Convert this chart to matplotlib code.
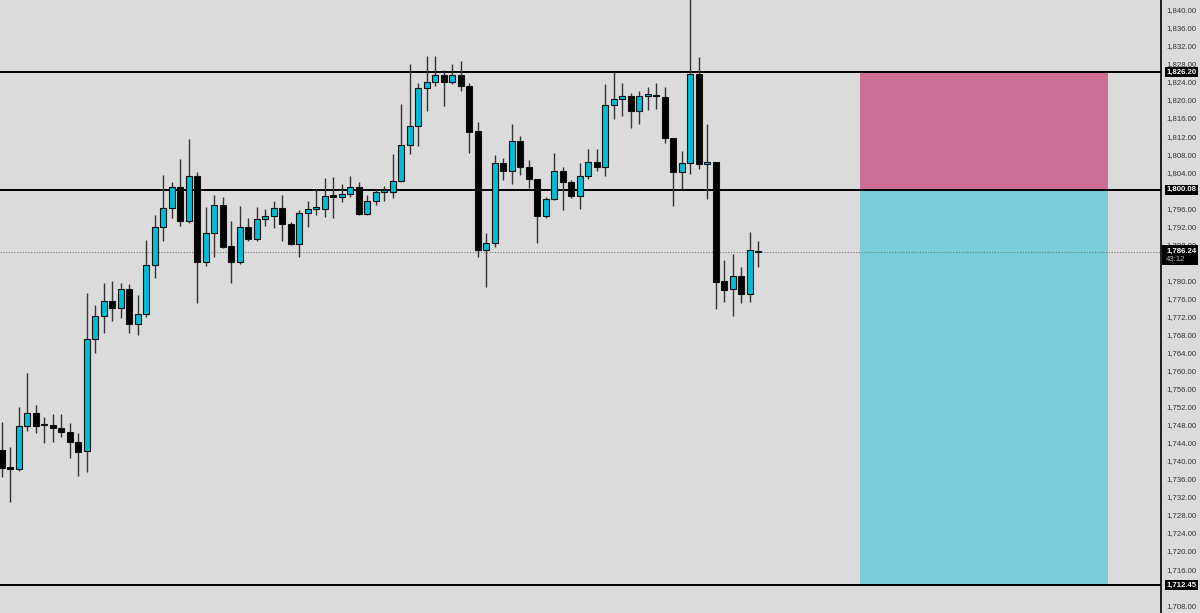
import matplotlib
matplotlib.use("Agg")
import matplotlib.pyplot as plt
import matplotlib.transforms as mtransforms
from matplotlib.patches import Rectangle
import numpy as np

# ---- data (prices) ----
opens = [1742.40, 1738.63, 1738.19, 1747.72, 1750.61, 1747.95, 1747.95, 1747.28, 1746.40, 1744.18,
         1742.18, 1767.01, 1772.11, 1775.44, 1773.89, 1778.10, 1770.34, 1772.55, 1783.42, 1791.84,
         1796.05, 1800.71, 1793.17, 1803.15, 1784.08, 1790.51, 1796.72, 1787.63, 1784.08, 1791.84,
         1789.18, 1793.62, 1794.28, 1796.05, 1792.51, 1788.07, 1794.95, 1795.83, 1795.83, 1798.61,
         1798.50, 1799.16, 1800.71, 1794.73, 1797.61, 1799.60, 1799.60, 1802.04, 1810.02, 1814.23,
         1822.66, 1823.99, 1825.54, 1823.99, 1825.54, 1823.10, 1813.13, 1786.74, 1788.30, 1806.03,
         1804.26, 1810.91, 1805.15, 1802.49, 1794.28, 1798.05, 1804.26, 1801.82, 1798.72, 1803.15,
         1806.25, 1805.15, 1818.89, 1820.22, 1820.89, 1817.56, 1820.89, 1820.89, 1820.66, 1811.57,
         1804.04, 1806.03, 1825.76, 1805.81, 1806.25, 1779.87, 1778.10, 1780.98, 1776.99, 1786.63]
highs = [1748.61, 1743.07, 1751.94, 1759.48, 1752.38, 1749.72, 1750.39, 1750.39, 1748.39, 1746.17,
         1777.21, 1774.55, 1779.43, 1779.87, 1779.43, 1779.21, 1776.77, 1788.96, 1794.50, 1803.37,
         1801.82, 1806.92, 1811.35, 1804.04, 1796.28, 1798.94, 1798.49, 1793.17, 1796.50, 1793.84,
         1796.28, 1795.83, 1797.61, 1798.94, 1792.95, 1795.61, 1797.61, 1800.27, 1802.71, 1802.93,
         1801.38, 1803.15, 1801.82, 1798.94, 1800.27, 1800.93, 1808.03, 1819.11, 1827.98, 1823.77,
         1829.76, 1829.76, 1826.65, 1827.98, 1828.65, 1823.77, 1815.12, 1790.51, 1807.81, 1807.14,
         1814.68, 1812.02, 1806.70, 1802.49, 1798.49, 1808.25, 1805.15, 1802.26, 1806.03, 1809.13,
         1809.13, 1823.55, 1826.21, 1823.77, 1821.55, 1822.00, 1822.88, 1823.77, 1822.88, 1811.57,
         1808.69, 1843.00, 1829.53, 1814.68, 1806.25, 1784.52, 1785.86, 1782.98, 1790.73, 1788.74]
lows = [1736.41, 1730.87, 1737.75, 1746.62, 1746.17, 1743.96, 1744.18, 1745.29, 1740.63, 1736.64,
        1737.53, 1763.91, 1768.34, 1771.00, 1771.67, 1768.34, 1767.90, 1771.89, 1780.54, 1788.74,
        1793.84, 1792.06, 1792.73, 1774.99, 1783.20, 1785.19, 1787.19, 1779.43, 1783.64, 1788.74,
        1788.74, 1792.06, 1791.62, 1788.74, 1787.85, 1785.19, 1791.84, 1794.50, 1794.06, 1793.84,
        1797.39, 1798.50, 1794.50, 1794.50, 1796.72, 1797.61, 1798.27, 1801.82, 1808.03, 1809.80,
        1817.56, 1823.10, 1818.67, 1823.55, 1822.00, 1808.25, 1785.19, 1778.54, 1787.41, 1802.26,
        1801.38, 1803.37, 1800.49, 1788.30, 1793.84, 1797.83, 1795.61, 1798.27, 1795.83, 1802.49,
        1804.26, 1803.15, 1815.79, 1816.45, 1813.79, 1814.68, 1817.78, 1818.00, 1810.47, 1796.50,
        1800.27, 1803.59, 1804.70, 1798.05, 1773.66, 1775.21, 1772.11, 1774.99, 1775.21, 1782.98]
closes = [1738.41, 1738.19, 1747.72, 1750.61, 1747.72, 1747.84, 1747.28, 1746.40, 1744.18, 1741.96,
          1767.01, 1772.11, 1775.44, 1773.89, 1778.10, 1770.34, 1772.55, 1783.42, 1791.84, 1796.05,
          1800.71, 1793.17, 1803.15, 1784.08, 1790.51, 1796.72, 1787.41, 1784.08, 1791.84, 1789.18,
          1793.62, 1794.28, 1796.05, 1792.51, 1788.07, 1794.95, 1795.83, 1795.83, 1798.72, 1798.50,
          1799.16, 1800.71, 1794.73, 1797.61, 1799.60, 1799.60, 1802.04, 1810.02, 1814.23, 1822.66,
          1823.99, 1825.54, 1823.99, 1825.54, 1823.10, 1812.91, 1786.74, 1788.30, 1806.03, 1804.26,
          1810.91, 1805.15, 1802.49, 1794.28, 1798.05, 1804.26, 1801.82, 1798.72, 1803.15, 1806.25,
          1805.15, 1818.89, 1820.22, 1820.89, 1817.56, 1820.89, 1820.89, 1820.82, 1811.57, 1804.04,
          1806.03, 1825.76, 1805.81, 1806.25, 1779.65, 1777.88, 1780.98, 1776.99, 1786.74, 1786.24]

level_lines = [1826.20, 1800.08, 1712.45]
level_labels = ["1,826.20", "1,800.08", "1,712.45"]
current_price = 1786.24
current_label = "1,786.24"
countdown_label = "43:12"
stop_zone = (1800.08, 1826.20)     # pink box
target_zone = (1712.45, 1800.08)   # cyan box
tick_values = list(range(1708, 1841, 4))
hidden_ticks = [1712, 1784, 1800]   # covered by the price boxes in the reference

# ---- styles ----
BG = "#dbdbdb"
BULL = "#00bcd4"
BEAR = "#000000"
PINK = "#cd6f94"
LCYAN = "#79cdd8"
FONT = "Liberation Sans"
FS = 5.6

W, H = 1200, 613
fig = plt.figure(figsize=(W / 100, H / 100), dpi=100)
fig.patch.set_facecolor(BG)
ax = fig.add_axes([0, 0, 1161 / W, 1])
ax.set_facecolor(BG)

n = len(opens)
x = np.arange(n)
o = np.array(opens); h = np.array(highs); l = np.array(lows); c = np.array(closes)
bull = c >= o
bull[-1] = False

# zones
ax.fill_between([101.0, 130.2], stop_zone[0], stop_zone[1], color=PINK, lw=0, zorder=1)
ax.fill_between([101.0, 130.2], target_zone[0], target_zone[1], color=LCYAN, lw=0, zorder=1)

# level lines
for lv in level_lines:
    ax.axhline(lv, color="#000000", lw=1.4, zorder=2)
ax.axhline(current_price, color="#777777", lw=0.8, ls=(0, (1, 1.5)), zorder=2)

# wicks
ax.vlines(x, l, h, color="#333333", lw=1.0, zorder=3)
# bodies
bottoms = np.minimum(o, c)
heights = np.maximum(np.abs(c - o), 0.35)
ax.bar(x[bull], heights[bull], bottom=bottoms[bull], width=0.72, color=BULL,
       edgecolor="#111111", linewidth=0.8, zorder=4)
ax.bar(x[~bull], heights[~bull], bottom=bottoms[~bull], width=0.72, color=BEAR,
       edgecolor="#111111", linewidth=0.8, zorder=4)

ax.set_xlim(-0.2, 136.4)
ax.set_ylim(1706.26, 1842.17)

ax.yaxis.tick_right()
ax.set_yticks(tick_values)
ax.set_yticklabels(["" if v in hidden_ticks else f"{v:,.2f}" for v in tick_values],
                   fontfamily=FONT)
ax.tick_params(axis="y", length=0, pad=4, labelsize=FS, labelcolor="#333333")
ax.set_xticks([])
for s in ["top", "left", "bottom"]:
    ax.spines[s].set_visible(False)
ax.spines["right"].set_color("#000000")
ax.spines["right"].set_linewidth(1.2)

trans = mtransforms.blended_transform_factory(ax.transAxes, ax.transData)
for lv, lab in zip(level_lines, level_labels):
    ax.text(1.0045, lv, lab, transform=trans, ha="left", va="center", fontsize=FS,
            color="white", fontweight="bold", fontfamily=FONT, clip_on=False, zorder=10,
            bbox=dict(boxstyle="square,pad=0.2", fc="#000000", ec="none"))

# current price box (two lines: price + countdown)
ax.add_patch(Rectangle((1.001, current_price - 2.85), 0.031, 4.45, transform=trans,
                       facecolor="#000000", edgecolor="none", clip_on=False, zorder=10))
ax.text(1.0045, current_price + 0.28, current_label, transform=trans,
        ha="left", va="center", fontsize=FS, color="white", fontweight="bold",
        fontfamily=FONT, clip_on=False, zorder=11)
ax.text(1.0045, current_price - 1.55, countdown_label, transform=trans,
        ha="left", va="center", fontsize=FS, color="#bbbbbb",
        fontfamily=FONT, clip_on=False, zorder=11)

fig.savefig("out.png", dpi=100, facecolor=BG)
